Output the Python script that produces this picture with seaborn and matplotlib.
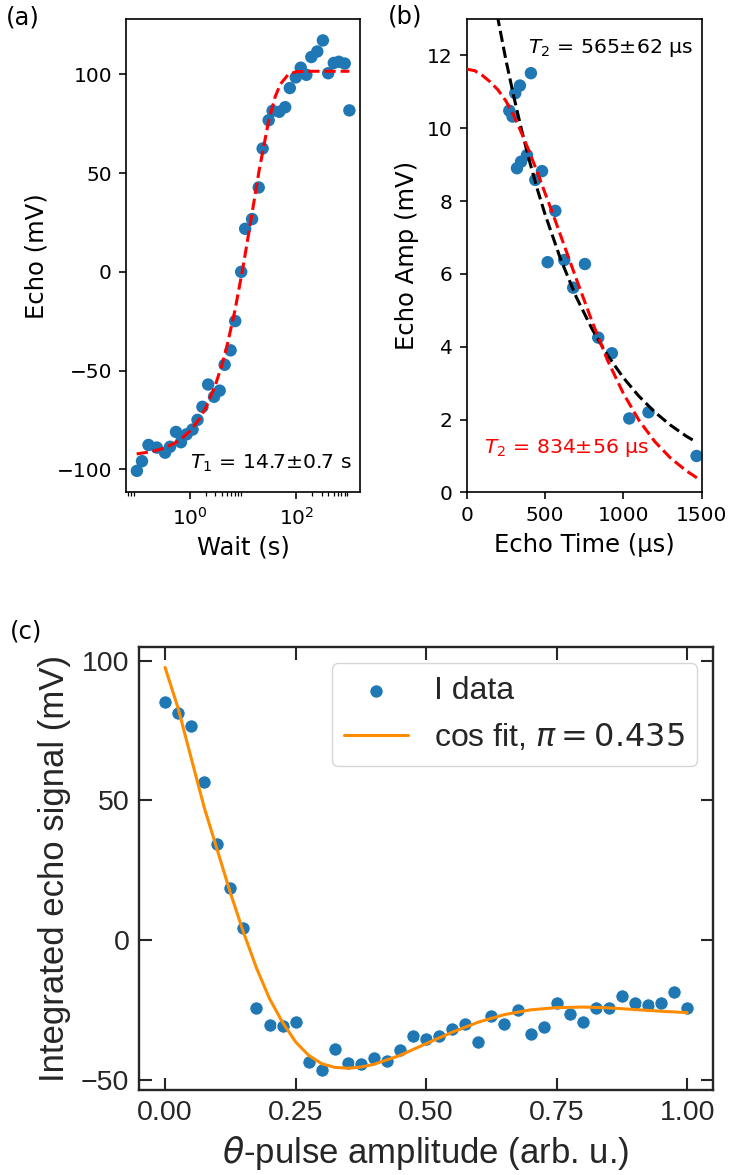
import matplotlib
matplotlib.use("Agg")
import matplotlib.pyplot as plt
import seaborn as sns
from matplotlib.ticker import FixedLocator, NullFormatter

# ---------------- data ----------------
# (a) T1 measurement
wait_s = [0.101, 0.126, 0.167, 0.239, 0.342, 0.424, 0.548, 0.679, 0.867, 1.12,
          1.39, 1.72, 2.20, 2.84, 3.62, 4.49, 5.81, 7.10, 9.18, 10.9,
          14.7, 19.6, 23.2, 30.1, 35.7, 47.6, 61.5, 75.1, 97.2, 120.5,
          153.6, 190.5, 246.3, 314.0, 395.0, 503.0, 624.0, 807.0, 986.0]
echo_mv = [-100.7, -95.8, -87.6, -88.9, -91.5, -88.5, -81.0, -86.2, -82.2, -79.8,
           -74.9, -68.3, -57.0, -63.2, -60.1, -47.0, -39.7, -24.9, 0.0, 21.8,
           26.7, 42.7, 62.4, 76.7, 81.5, 81.0, 83.3, 93.0, 98.4, 103.3,
           99.7, 108.7, 111.5, 117.1, 100.5, 105.7, 106.3, 105.4, 81.7]
t1_fit_t = [0.1, 0.15, 0.2, 0.3, 0.5, 0.7, 1.0, 1.5, 2.0, 3.0, 4.0, 5.0, 7.0,
            10.0, 14.0, 20.0, 30.0, 40.0, 50.0, 70.0, 100.0, 200.0, 500.0, 986.0]
t1_fit_y = [-92.1, -91.4, -90.8, -89.5, -86.9, -84.3, -80.6, -74.5, -68.6, -57.4,
            -47.0, -37.2, -19.6, 2.8, 26.3, 51.5, 76.2, 88.7, 95.0, 99.8, 101.3,
            101.5, 101.5, 101.5]

# (b) T2 measurement
echo_time_us = [272, 293, 310, 321, 340, 347, 385, 410, 438, 481,
                517, 566, 623, 680, 755, 840, 927, 1038, 1161, 1468]
echo_amp_mv = [10.48, 10.32, 10.96, 8.90, 11.17, 9.08, 9.26, 11.51, 8.58, 8.82,
               6.32, 7.73, 6.38, 5.62, 6.27, 4.25, 3.82, 2.03, 2.20, 1.00]
exp_fit_t = [150, 200, 250, 300, 350, 400, 450, 500, 600, 700, 800, 900, 1000,
             1100, 1200, 1300, 1400, 1470]
exp_fit_y = [14.19, 12.99, 11.88, 10.88, 9.96, 9.11, 8.34, 7.64, 6.40, 5.36, 4.49,
             3.76, 3.15, 2.64, 2.21, 1.85, 1.55, 1.37]
gauss_fit_t = [0, 50, 100, 150, 200, 250, 300, 350, 400, 450, 500, 550, 600, 700,
               800, 900, 1000, 1100, 1200, 1300, 1400, 1470]
gauss_fit_y = [11.62, 11.58, 11.45, 11.27, 11.05, 10.75, 10.35, 9.87, 9.35, 8.80,
               8.22, 7.65, 7.05, 5.86, 4.70, 3.62, 2.72, 1.98, 1.40, 0.95, 0.60, 0.40]

# (c) amplitude sweep
theta_amp = [0.000, 0.025, 0.050, 0.075, 0.100, 0.125, 0.150, 0.175, 0.200, 0.225,
             0.250, 0.275, 0.300, 0.325, 0.350, 0.375, 0.400, 0.425, 0.450, 0.475,
             0.500, 0.525, 0.550, 0.575, 0.600, 0.625, 0.650, 0.675, 0.700, 0.725,
             0.750, 0.775, 0.800, 0.825, 0.850, 0.875, 0.900, 0.925, 0.950, 0.975,
             1.000]
i_data = [85.1, 81.3, 76.8, 56.4, 34.5, 18.8, 4.2, -24.3, -30.6, -30.8,
          -29.3, -43.5, -46.5, -38.9, -44.0, -44.5, -42.3, -43.3, -39.5, -34.5,
          -35.4, -34.2, -31.7, -30.0, -36.5, -27.3, -30.2, -25.0, -33.5, -31.1,
          -22.4, -26.4, -29.5, -24.5, -24.4, -20.1, -22.4, -23.1, -22.7, -18.7,
          -24.4]
cos_fit_x = [0.0, 0.025, 0.05, 0.075, 0.1, 0.125, 0.15, 0.175, 0.2, 0.225, 0.25,
             0.275, 0.3, 0.325, 0.35, 0.375, 0.4, 0.45, 0.5, 0.55, 0.6, 0.65,
             0.7, 0.75, 0.8, 0.85, 0.9, 0.95, 1.0]
cos_fit_y = [97.6, 82.9, 65.1, 47.4, 32.2, 16.9, 2.8, -10.0, -21.0, -29.5, -36.5,
             -41.3, -44.3, -45.6, -45.9, -45.5, -44.5, -41.3, -37.1, -33.0, -29.4,
             -26.7, -25.0, -24.2, -24.0, -24.3, -24.9, -25.5, -26.0]

# ---------------- style ----------------
sns.set_theme(style="ticks")
plt.rcParams['font.family'] = ['DejaVu Sans']
plt.rcParams['mathtext.fontset'] = 'dejavusans'

BLUE = '#1f77b4'
DARK = '#262626'
W, H = 730, 1175

fig = plt.figure(figsize=(W / 100, H / 100), dpi=100)
fig.patch.set_facecolor('white')


def rect(l, t, r, b):
    return [l / W, 1 - b / H, (r - l) / W, (b - t) / H]


ax_a = fig.add_axes(rect(126, 18.9, 360, 492.4))
ax_b = fig.add_axes(rect(466.7, 18.9, 701.6, 492.4))
ax_c = fig.add_axes(rect(139, 647.3, 713.3, 1090))

# ---------------- (a) ----------------
ax_a.set_xscale('log')
sns.scatterplot(x=wait_s, y=echo_mv, ax=ax_a, color=BLUE, s=80,
                edgecolor='none', linewidth=0, zorder=2)
sns.lineplot(x=t1_fit_t, y=t1_fit_y, ax=ax_a, color='red', linestyle='--',
             linewidth=2.2, sort=False, estimator=None, zorder=3)
ax_a.xaxis.set_major_locator(FixedLocator([1, 100]))
ax_a.xaxis.set_minor_locator(FixedLocator(
    [k * 10.0 ** d for d in (-2, 0, 2) for k in range(2, 10)]))
ax_a.xaxis.set_minor_formatter(NullFormatter())
ax_a.set_yticks([-100, -50, 0, 50, 100])
ax_a.set_xlabel('Wait (s)', fontsize=17.5, color='black', labelpad=5.5)
ax_a.set_ylabel('Echo (mV)', fontsize=17.5, color='black', labelpad=5.5)
ax_a.text(0.9645, 0.0615, r'$T_1$ = 14.7±0.7 s', transform=ax_a.transAxes,
          ha='right', va='center', fontsize=14.7, color='black')

# ---------------- (b) ----------------
sns.scatterplot(x=echo_time_us, y=echo_amp_mv, ax=ax_b, color=BLUE, s=80,
                edgecolor='none', linewidth=0, zorder=2)
sns.lineplot(x=exp_fit_t, y=exp_fit_y, ax=ax_b, color='black', linestyle='--',
             linewidth=2.2, sort=False, estimator=None, zorder=3)
sns.lineplot(x=gauss_fit_t, y=gauss_fit_y, ax=ax_b, color='red', linestyle='--',
             linewidth=2.2, sort=False, estimator=None, zorder=3)
ax_b.set_xlim(0, 1500)
ax_b.set_ylim(0, 13)
ax_b.set_xticks([0, 500, 1000, 1500])
ax_b.set_yticks([0, 2, 4, 6, 8, 10, 12])
ax_b.set_xlabel('Echo Time (μs)', fontsize=17.5, color='black', labelpad=5.5)
ax_b.set_ylabel('Echo Amp (mV)', fontsize=17.5, color='black', labelpad=5.5)
ax_b.text(0.9647, 0.938, r'$T_2$ = 565±62 μs', transform=ax_b.transAxes,
          ha='right', va='center', fontsize=14.7, color='black')
ax_b.text(0.075, 0.0944, r'$T_2$ = 834±56 μs', transform=ax_b.transAxes,
          ha='left', va='center', fontsize=14.7, color='red')

for ax in (ax_a, ax_b):
    for sp in ax.spines.values():
        sp.set_color('black')
        sp.set_linewidth(1.2)
    ax.tick_params(which='major', direction='out', length=5.1, width=1.16,
                   colors='black', labelsize=14.5, pad=5, top=False, right=False)
    ax.tick_params(which='minor', direction='out', length=2.9, width=0.9,
                   colors='black', top=False, right=False)
    leg = ax.get_legend()
    if leg is not None:
        leg.remove()

# ---------------- (c) ----------------
sns.scatterplot(x=theta_amp, y=i_data, ax=ax_c, color=BLUE, s=95,
                edgecolor='white', linewidth=0.8, zorder=2)
sns.lineplot(x=cos_fit_x, y=cos_fit_y, ax=ax_c, color='darkorange',
             linewidth=2.2, sort=False, estimator=None, zorder=3)
ax_c.set_xticks([0.0, 0.25, 0.5, 0.75, 1.0])
ax_c.set_yticks([-50, 0, 50, 100])
ax_c.set_xlim(-0.05, 1.05)
ax_c.set_ylim(-53.7, 104.8)
for sp in ax_c.spines.values():
    sp.set_color(DARK)
    sp.set_linewidth(1.7)
ax_c.tick_params(which='major', direction='in', length=9, width=1.5,
                 top=True, right=True, colors=DARK, labelsize=20.5, pad=7,
                 labelfontfamily='Liberation Sans')
ax_c.set_xlabel(r'$\theta$-pulse amplitude (arb. u.)', fontsize=25,
                family='Liberation Sans', color=DARK, labelpad=6)
ax_c.set_ylabel('Integrated echo signal (mV)', fontsize=25,
                family='Liberation Sans', color=DARK, labelpad=7)
handles = [ax_c.collections[0], ax_c.lines[0]]
leg = ax_c.legend(handles, ['I data', r'cos fit, $\pi = 0.435$'],
                  loc='upper right', frameon=True, fancybox=True,
                  prop={'family': 'Liberation Sans', 'size': 23},
                  scatterpoints=1, markerscale=1.0)
leg.get_frame().set_edgecolor('0.8')
leg.get_frame().set_linewidth(1.0)
for t in leg.get_texts():
    t.set_color(DARK)

# ---------------- panel letters ----------------
fig.text(23 / W, 1 - 17 / H, '(a)', ha='center', va='center', fontsize=17.5,
         color='black')
fig.text(404.7 / W, 1 - 16.4 / H, '(b)', ha='center', va='center',
         fontsize=17.5, color='black')
fig.text(26.5 / W, 1 - 631.6 / H, '(c)', ha='center', va='center',
         fontsize=17.5, color='black')

fig.savefig('out.png', dpi=100, facecolor='white')
